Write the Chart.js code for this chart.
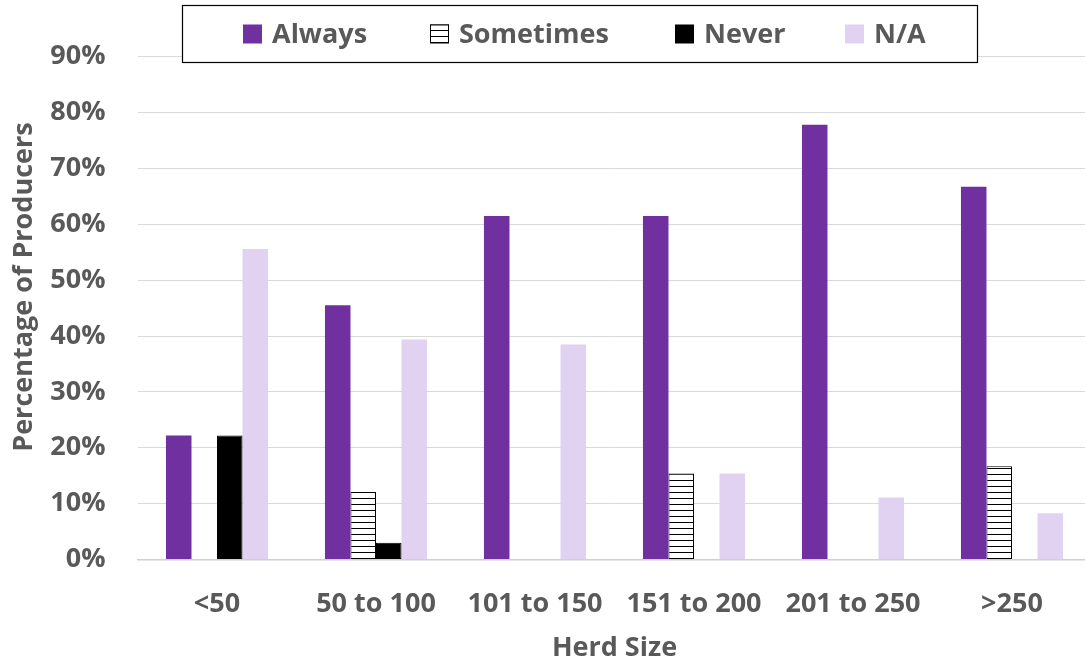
<!DOCTYPE html>
<html lang="en">
<title>Herd Size chart</title>
<meta charset="UTF-8">
<script src="https://cdn.jsdelivr.net/npm/chart.js@4.4.1/dist/chart.umd.min.js"></script>
<style>
html, body {margin: 0; padding: 0; background: #fff; overflow: hidden;}
#wrap {width: 1100px; height: 664px;}
</style>
<body>
<div id="wrap"><canvas id="myChart" width="1100" height="664"></canvas></div>

<script>
// data (percent of producers)
var herdSizes = ['<50', '50 to 100', '101 to 150', '151 to 200', '201 to 250', '>250'];
var always    = [22.2, 45.5, 61.5, 61.5, 77.8, 66.7];
var sometimes = [0, 12.1, 0, 15.4, 0, 16.7];
var never     = [22.2, 3.0, 0, 0, 0, 0];
var notApp    = [55.6, 39.4, 38.5, 15.4, 11.1, 8.3];
var yTicks    = [0, 10, 20, 30, 40, 50, 60, 70, 80, 90];

var textGrey = '#595959';
var fontFam = "'Open Sans', sans-serif";

// horizontal stripes for "Sometimes"
function stripes() {
  var c = document.createElement('canvas');
  c.width = 8; c.height = 6;
  var g = c.getContext('2d');
  g.fillStyle = '#fff';
  g.fillRect(0, 0, 8, 6);
  g.fillStyle = '#000';
  g.fillRect(0, 0, 8, 1);
  return g.createPattern(c, 'repeat');
}
var stripePattern = stripes();

function zeroNoBorder(w) {
  return function(ctx) {
    return ctx.raw ? w : 0;
  };
}

// legend drawn on top of the plot, with a box round it
var legendSlots = [243, 430, 675, 845];
var boxedLegend = {
  id: 'boxedLegend',
  afterDraw: function(chart) {
    var ctx = chart.ctx;
    var box = 19, cy = 34;
    ctx.save();
    ctx.font = 'bold 27px ' + fontFam;
    ctx.fillStyle = '#fff';
    ctx.fillRect(182, 5, 796, 58);
    ctx.strokeStyle = '#000';
    ctx.lineWidth = 1.2;
    ctx.strokeRect(182.5, 5.5, 795, 57);
    ctx.textBaseline = 'middle';
    chart.data.datasets.forEach(function(ds, i) {
      var x = legendSlots[i];
      ctx.fillStyle = ds.backgroundColor;
      ctx.fillRect(x, cy - box / 2, box, box);
      if (ds.legendBorder) {
        ctx.strokeStyle = '#000';
        ctx.lineWidth = 1;
        ctx.strokeRect(x + 0.5, cy - box / 2 + 0.5, box - 1, box - 1);
      }
      ctx.fillStyle = textGrey;
      ctx.fillText(ds.label, x + 29, cy + 1);
    });
    ctx.restore();
  }
};

var chartctx = document.getElementById('myChart').getContext('2d');

var herdchart = new Chart(chartctx, {
  type: 'bar',
  data: {
    labels: herdSizes,
    datasets: [{
      label: 'Always',
      backgroundColor: '#7030A0',
      borderWidth: 0,
      data: always
    }, {
      label: 'Sometimes',
      backgroundColor: stripePattern,
      borderColor: '#000',
      borderWidth: zeroNoBorder(1),
      legendBorder: true,
      data: sometimes
    }, {
      label: 'Never',
      backgroundColor: '#000',
      borderColor: '#000',
      borderWidth: zeroNoBorder(1),
      data: never
    }, {
      label: 'N/A',
      backgroundColor: '#E1D2F1',
      borderWidth: 0,
      data: notApp
    }]
  },
  options: {
    responsive: false,
    animation: false,
    layout: {padding: {left: 0, right: 8.5, top: 56.7, bottom: 0}},
    plugins: {
      legend: {display: false},
      tooltip: {enabled: false}
    },
    datasets: {
      bar: {categoryPercentage: 0.642, barPercentage: 1.0, borderSkipped: false}
    },
    scales: {
      x: {
        grid: {display: false, drawTicks: false},
        border: {color: '#D0D0D0', width: 1.5},
        ticks: {color: textGrey, font: {family: fontFam, size: 27, weight: 'bold'}, padding: 29, maxRotation: 0, autoSkip: false},
        title: {display: true, text: 'Herd Size', color: textGrey, font: {family: fontFam, size: 27, weight: 'bold', lineHeight: 1.1}, padding: {top: 0, bottom: 1}},
        afterFit: function(s) { s.height = 104.5; }
      },
      y: {
        min: 0,
        max: 90,
        afterBuildTicks: function(s) { s.ticks = yTicks.map(function(v) { return {value: v}; }); },
        grid: {color: '#D9D9D9', lineWidth: 1, drawTicks: false},
        border: {display: false},
        ticks: {
          color: textGrey,
          font: {family: fontFam, size: 27, weight: 'bold'},
          padding: 32,
          callback: function(v) { return v + '%'; }
        },
        title: {display: true, text: '      Percentage of Producers', color: textGrey, font: {family: fontFam, size: 27, weight: 'bold'}, padding: {top: 8, bottom: 0}},
        afterFit: function(s) { s.width = 137.5; }
      }
    }
  },
  plugins: [boxedLegend]
});
</script>
</body>
</html>
